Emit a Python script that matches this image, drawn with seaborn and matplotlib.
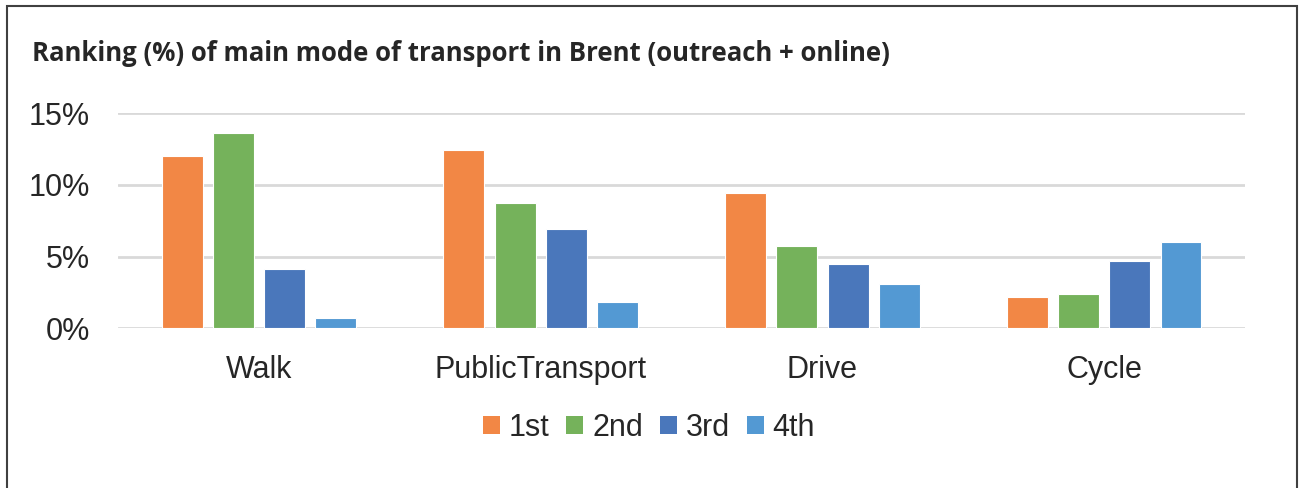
import matplotlib
matplotlib.use("Agg")
import matplotlib.pyplot as plt
import seaborn as sns
import pandas as pd
from matplotlib.patches import Rectangle, Patch

modes = ["Walk", "PublicTransport", "Drive", "Cycle"]
ranks = ["1st", "2nd", "3rd", "4th"]
first = [12.0, 12.4, 9.4, 2.2]
second = [13.6, 8.7, 5.7, 2.4]
third = [4.1, 6.9, 4.5, 4.7]
fourth = [0.7, 1.8, 3.1, 6.0]
yticks = [0, 5, 10, 15]
ytick_labels = ["0%", "5%", "10%", "15%"]
title = "Ranking (%) of main mode of transport in Brent (outreach + online)"
colors = ["#F28745", "#75B25B", "#4A77BB", "#5399D3"]

rows = []
for r, vals in zip(ranks, [first, second, third, fourth]):
    for m, v in zip(modes, vals):
        rows.append({"mode": m, "rank": r, "value": v})
df = pd.DataFrame(rows)

sns.set_style("white")
plt.rcParams["font.family"] = ["Liberation Sans", "DejaVu Sans"]

fig = plt.figure(figsize=(13.04, 4.88), dpi=100)
ax = fig.add_axes([0.0905, 0.3273, 0.8643, 0.4411])

sns.barplot(data=df, x="mode", y="value", hue="rank", order=modes, hue_order=ranks,
            palette=colors, saturation=1, width=0.727, gap=0.2, ax=ax, legend=False,
            edgecolor="white", linewidth=0.8, zorder=3)

ax.set_ylim(0, 15)
ax.set_xlim(-0.5, 3.5)
ax.set_yticks(yticks)
ax.set_yticklabels(ytick_labels)
ax.yaxis.grid(True, color="#d9d9d9", linewidth=2, zorder=0)
ax.set_axisbelow(True)
for s in ax.spines.values():
    s.set_visible(False)
ax.tick_params(axis="y", length=0, pad=20, labelsize=22, labelcolor="#262626")
ax.tick_params(axis="x", length=0, pad=19, labelsize=22, labelcolor="#262626")
ax.set_xlabel("")
ax.set_ylabel("")

fig.text(32 / 1304, 1 - 61 / 488, title, fontsize=18.5, fontweight="bold",
         family=["Open Sans", "DejaVu Sans"], color="#262626", va="baseline", ha="left")

handles = [Patch(facecolor=c, edgecolor="none") for c in colors]
fig.legend(handles, ranks, loc="center", bbox_to_anchor=(649 / 1304, 1 - 428 / 488),
           ncol=4, frameon=False, fontsize=22, handlelength=0.55, handleheight=0.55,
           handletextpad=0.3, columnspacing=0.55, labelcolor="#262626")

fig.patches.append(Rectangle((7 / 1304, -0.05), (1297 - 7) / 1304, 1.05 - 6 / 488,
                             transform=fig.transFigure, fill=False,
                             edgecolor="#404040", linewidth=1.5))

fig.savefig("out.png", dpi=100)
